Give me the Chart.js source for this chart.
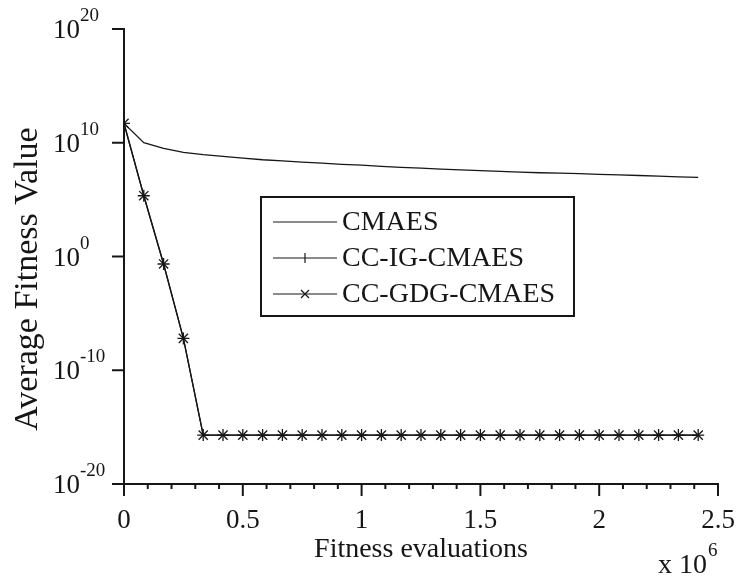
<!DOCTYPE html>
<html>
<head>
<meta charset="utf-8">
<script src="https://cdn.jsdelivr.net/npm/chart.js@4"></script>
<style>
  html, body { margin: 0; padding: 0; background: #fff; }
  #c { display: block; }
</style>
</head>
<body>
<canvas id="c" width="736" height="579"></canvas>
<script>
// ---- data ----
const xValues = [0, 83333, 166667, 250000, 333333, 416667, 500000, 583333, 666667, 750000,
  833333, 916667, 1000000, 1083333, 1166667, 1250000, 1333333, 1416667, 1500000, 1583333,
  1666667, 1750000, 1833333, 1916667, 2000000, 2083333, 2166667, 2250000, 2333333, 2416667];
const cmaes = [5.0e11, 1.0e10, 3.2e9, 1.4e9, 8.9e8, 6.3e8, 4.5e8, 3.2e8, 2.5e8, 2.0e8,
  1.6e8, 1.26e8, 1.07e8, 8.5e7, 6.9e7, 5.8e7, 4.8e7, 4.1e7, 3.5e7, 3.0e7,
  2.6e7, 2.3e7, 2.1e7, 1.9e7, 1.66e7, 1.48e7, 1.32e7, 1.15e7, 1.0e7, 8.9e6];
const ccIG = [5.0e11, 2.2e5, 0.22, 6.3e-8, 2.0e-16, 2.0e-16, 2.0e-16, 2.0e-16, 2.0e-16, 2.0e-16,
  2.0e-16, 2.0e-16, 2.0e-16, 2.0e-16, 2.0e-16, 2.0e-16, 2.0e-16, 2.0e-16, 2.0e-16, 2.0e-16,
  2.0e-16, 2.0e-16, 2.0e-16, 2.0e-16, 2.0e-16, 2.0e-16, 2.0e-16, 2.0e-16, 2.0e-16, 2.0e-16];
const ccGDG = [5.0e11, 2.2e5, 0.22, 6.3e-8, 2.0e-16, 2.0e-16, 2.0e-16, 2.0e-16, 2.0e-16, 2.0e-16,
  2.0e-16, 2.0e-16, 2.0e-16, 2.0e-16, 2.0e-16, 2.0e-16, 2.0e-16, 2.0e-16, 2.0e-16, 2.0e-16,
  2.0e-16, 2.0e-16, 2.0e-16, 2.0e-16, 2.0e-16, 2.0e-16, 2.0e-16, 2.0e-16, 2.0e-16, 2.0e-16];
const seriesLabels = ['CMAES', 'CC-IG-CMAES', 'CC-GDG-CMAES'];
const yTickValues = [1e-20, 1e-10, 1, 1e10, 1e20];
const yTickExponents = ['-20', '-10', '0', '10', '20'];
const xTickValues = [0, 500000, 1000000, 1500000, 2000000, 2500000];
const xTickLabels = ['0', '0.5', '1', '1.5', '2', '2.5'];
const xMinorStep = 100000;
const xTitle = 'Fitness evaluations';
const yTitle = 'Average Fitness Value';
const xScaleNote = ['x 10', '6'];

// ---- styling ----
const INK = '#161616';
const FONT = '"Liberation Serif", "Times New Roman", serif';

const toPts = (ys) => xValues.map((x, i) => ({ x: x, y: ys[i] }));

const decorPlugin = {
  id: 'decor',
  afterDraw(chart) {
    const { ctx } = chart;
    const x = chart.scales.x, y = chart.scales.y;
    ctx.save();
    ctx.strokeStyle = INK;
    ctx.fillStyle = INK;
    ctx.lineWidth = 2;
    // x ticks (outward)
    for (let v = 0; v <= x.max + 1; v += xMinorStep) {
      const px = x.getPixelForValue(v);
      const major = xTickValues.some(t => Math.abs(t - v) < 1);
      ctx.beginPath();
      ctx.moveTo(px, y.bottom);
      ctx.lineTo(px, y.bottom + (major ? 12 : 5));
      ctx.stroke();
    }
    // y ticks
    yTickValues.forEach(v => {
      const py = y.getPixelForValue(v);
      ctx.beginPath();
      ctx.moveTo(x.left - 12, py);
      ctx.lineTo(x.left, py);
      ctx.stroke();
    });
    // x tick labels
    ctx.font = '27px ' + FONT;
    ctx.textAlign = 'center';
    ctx.textBaseline = 'alphabetic';
    xTickValues.forEach((v, i) => {
      ctx.fillText(xTickLabels[i], x.getPixelForValue(v), y.bottom + 44);
    });
    // y tick labels: 10^exp
    yTickValues.forEach((v, i) => {
      const py = y.getPixelForValue(v);
      ctx.textAlign = 'left';
      ctx.font = '27px ' + FONT;
      ctx.fillText('10', 53, py + 9);
      const w = ctx.measureText('10').width;
      ctx.font = '19px ' + FONT;
      ctx.fillText(yTickExponents[i], 53 + w, py - 8);
    });
    // x title
    ctx.font = '28px ' + FONT;
    ctx.textAlign = 'center';
    ctx.fillText(xTitle, (x.left + x.right) / 2, 557);
    // scale note x 10^6
    ctx.textAlign = 'left';
    ctx.font = '28px ' + FONT;
    ctx.fillText(xScaleNote[0], 658, 573);
    const w2 = ctx.measureText(xScaleNote[0]).width;
    ctx.font = '19px ' + FONT;
    ctx.fillText(xScaleNote[1], 658 + w2 + 1, 556);
    // y title
    ctx.save();
    ctx.translate(37, 279);
    ctx.rotate(-Math.PI / 2);
    ctx.font = '34px ' + FONT;
    ctx.textAlign = 'center';
    ctx.fillText(yTitle, 0, 0);
    ctx.restore();
    // legend box
    const bx = 261, by = 197, bw = 313, bh = 119;
    ctx.fillStyle = '#fff';
    ctx.fillRect(bx, by, bw, bh);
    ctx.lineWidth = 2;
    ctx.strokeStyle = INK;
    ctx.strokeRect(bx, by, bw, bh);
    ctx.fillStyle = INK;
    const rows = [222, 258, 294];
    chart.data.datasets.forEach((ds, i) => {
      const ry = rows[i];
      ctx.lineWidth = 1.2;
      ctx.beginPath();
      ctx.moveTo(273, ry);
      ctx.lineTo(337, ry);
      ctx.stroke();
      const cx = 305;
      if (ds.pointStyle === 'cross') {
        ctx.beginPath();
        ctx.moveTo(cx, ry - 5); ctx.lineTo(cx, ry + 5);
        ctx.stroke();
      } else if (ds.pointStyle === 'crossRot') {
        ctx.beginPath();
        ctx.moveTo(cx - 4, ry - 4); ctx.lineTo(cx + 4, ry + 4);
        ctx.moveTo(cx - 4, ry + 4); ctx.lineTo(cx + 4, ry - 4);
        ctx.stroke();
      }
      ctx.font = '28px ' + FONT;
      ctx.textAlign = 'left';
      ctx.textBaseline = 'middle';
      ctx.fillText(ds.label, 342, ry + 1);
      ctx.textBaseline = 'alphabetic';
    });
    ctx.restore();
  }
};

new Chart(document.getElementById('c'), {
  type: 'line',
  data: {
    datasets: [
      { label: seriesLabels[0], data: toPts(cmaes), borderColor: INK, borderWidth: 1.3,
        pointRadius: 0, pointStyle: false, tension: 0 },
      { label: seriesLabels[1], data: toPts(ccIG), borderColor: INK, borderWidth: 1.3,
        pointStyle: 'cross', pointRadius: 6, pointBorderWidth: 1.3, pointBorderColor: INK, tension: 0 },
      { label: seriesLabels[2], data: toPts(ccGDG), borderColor: INK, borderWidth: 1.3,
        pointStyle: 'crossRot', pointRadius: 6.5, pointBorderWidth: 1.3, pointBorderColor: INK, tension: 0 }
    ]
  },
  options: {
    responsive: false,
    animation: false,
    devicePixelRatio: 1,
    layout: { padding: { left: 0, top: 29, right: 18, bottom: 0 } },
    plugins: { legend: { display: false }, tooltip: { enabled: false } },
    scales: {
      x: {
        type: 'linear', min: 0, max: 2500000,
        grid: { display: false },
        border: { display: true, color: INK, width: 2 },
        ticks: { display: false },
        afterFit(s) { s.height = 95; }
      },
      y: {
        type: 'logarithmic', min: 1e-20, max: 1e20,
        grid: { display: false },
        border: { display: true, color: INK, width: 2 },
        ticks: { display: false },
        afterFit(s) { s.width = 124; }
      }
    }
  },
  plugins: [decorPlugin]
});
</script>
</body>
</html>
